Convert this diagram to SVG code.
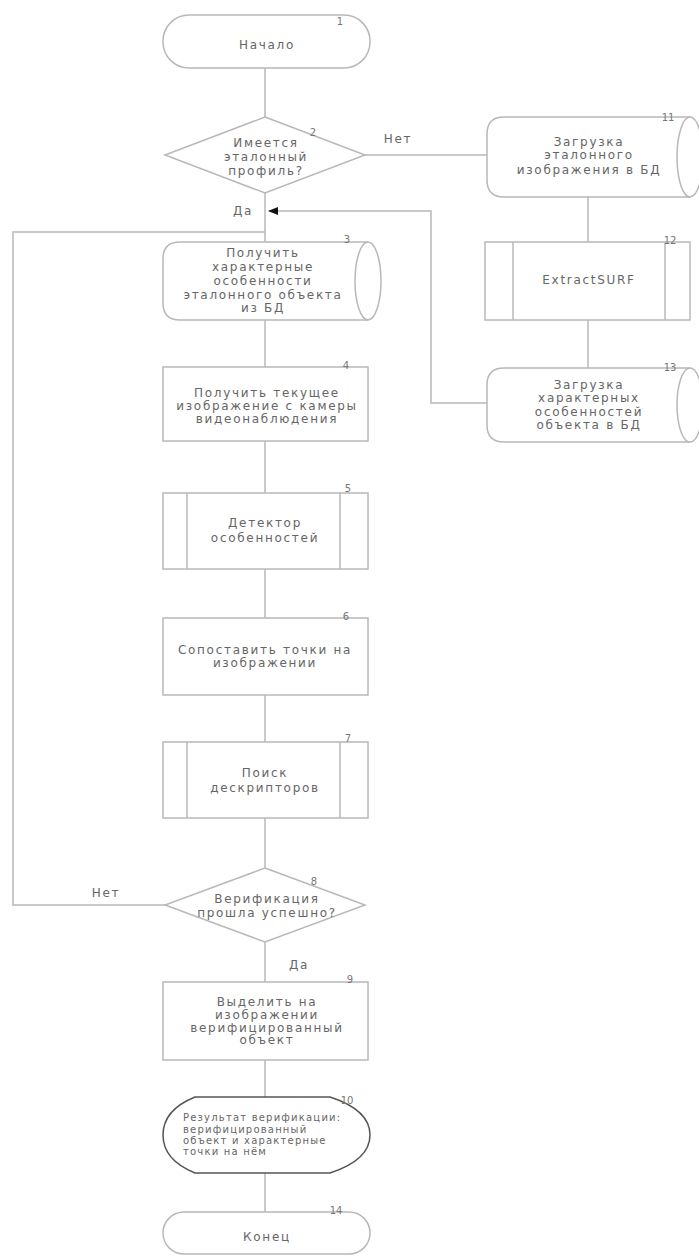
<svg xmlns="http://www.w3.org/2000/svg" width="699" height="1256" viewBox="0 0 699 1256">
<defs>
<style>
.s{fill:#fff;stroke:#b8b8b8;stroke-width:1.5}
.d{fill:#fff;stroke:#555;stroke-width:1.5}
.c{fill:none;stroke:#b8b8b8;stroke-width:1.5}
.t{font-family:"DejaVu Sans",sans-serif;font-size:12px;fill:#666;text-anchor:middle;letter-spacing:1.7px}
.n{font-family:"DejaVu Sans",sans-serif;font-size:10px;fill:#777;text-anchor:middle}
.sm{font-family:"DejaVu Sans",sans-serif;font-size:10px;fill:#666;letter-spacing:1.2px}
</style>
<marker id="ah" markerWidth="10" markerHeight="8" refX="9" refY="4" orient="auto" markerUnits="userSpaceOnUse">
<path d="M0,0 L10,4 L0,8 Z" fill="#111"/>
</marker>
</defs>
<rect width="699" height="1256" fill="#fff"/>
<g id="connectors">
<line class="c" x1="265" y1="68" x2="265" y2="117"/>
<line class="c" x1="265" y1="193" x2="265" y2="242"/>
<line class="c" x1="363" y1="155" x2="487" y2="155"/>
<line class="c" x1="588" y1="197" x2="588" y2="242"/>
<line class="c" x1="588" y1="320" x2="588" y2="368"/>
<polyline class="c" points="487,403 431,403 431,211 269,211" marker-end="url(#ah)"/>
<line class="c" x1="265" y1="320" x2="265" y2="367"/>
<line class="c" x1="265" y1="441" x2="265" y2="493"/>
<line class="c" x1="265" y1="569" x2="265" y2="618"/>
<line class="c" x1="265" y1="695" x2="265" y2="742"/>
<line class="c" x1="265" y1="818" x2="265" y2="868"/>
<polyline class="c" points="165,905 13,905 13,232 265,232"/>
<line class="c" x1="265" y1="942" x2="265" y2="982"/>
<line class="c" x1="265" y1="1060" x2="265" y2="1097"/>
<line class="c" x1="265" y1="1173" x2="265" y2="1212"/>
<text class="t" x="398" y="143">Нет</text>
<text class="t" x="243" y="215">Да</text>
<text class="t" x="106" y="897">Нет</text>
<text class="t" x="299" y="969">Да</text>
</g>
<g id="n1">
<rect class="s" x="163" y="15" width="207" height="53" rx="26"/>
<text class="t" x="267" y="49">Начало</text>
<text class="n" x="340" y="25">1</text>
</g>
<g id="n2">
<polygon class="s" points="265,117 365,155 265,193 165,155"/>
<text class="t" x="266" y="147">Имеется</text>
<text class="t" x="266" y="161">эталонный</text>
<text class="t" x="266" y="175">профиль?</text>
<text class="n" x="313" y="136">2</text>
</g>
<g id="n3">
<path class="s" d="M180,242 L368,242 A13,39 0 0 1 368,320 L180,320 Q163,320 163,303 L163,259 Q163,242 180,242 Z"/>
<path class="c" d="M368,242 A13,39 0 0 0 368,320"/>
<text class="t" x="263" y="257">Получить</text>
<text class="t" x="263" y="271">характерные</text>
<text class="t" x="263" y="285">особенности</text>
<text class="t" x="263" y="299">эталонного объекта</text>
<text class="t" x="263" y="312">из БД</text>
<text class="n" x="347" y="243">3</text>
</g>
<g id="n4">
<rect class="s" x="163" y="367" width="205" height="74"/>
<text class="t" x="267" y="397">Получить текущее</text>
<text class="t" x="267" y="410">изображение с камеры</text>
<text class="t" x="267" y="423">видеонаблюдения</text>
<text class="n" x="346" y="369">4</text>
</g>
<g id="n5">
<rect class="s" x="163" y="493" width="205" height="76"/>
<line class="c" x1="187" y1="493" x2="187" y2="569"/>
<line class="c" x1="340" y1="493" x2="340" y2="569"/>
<text class="t" x="265" y="527">Детектор</text>
<text class="t" x="265" y="542">особенностей</text>
<text class="n" x="348" y="492">5</text>
</g>
<g id="n6">
<rect class="s" x="163" y="618" width="205" height="77"/>
<text class="t" x="265" y="654">Сопоставить точки на</text>
<text class="t" x="265" y="667">изображении</text>
<text class="n" x="346" y="620">6</text>
</g>
<g id="n7">
<rect class="s" x="163" y="742" width="205" height="76"/>
<line class="c" x1="187" y1="742" x2="187" y2="818"/>
<line class="c" x1="340" y1="742" x2="340" y2="818"/>
<text class="t" x="265" y="777">Поиск</text>
<text class="t" x="265" y="792">дескрипторов</text>
<text class="n" x="348" y="742">7</text>
</g>
<g id="n8">
<polygon class="s" points="265,868 365,905 265,942 165,905"/>
<text class="t" x="267" y="903">Верификация</text>
<text class="t" x="267" y="917">прошла успешно?</text>
<text class="n" x="314" y="885">8</text>
</g>
<g id="n9">
<rect class="s" x="163" y="982" width="205" height="78"/>
<text class="t" x="267" y="1006">Выделить на</text>
<text class="t" x="267" y="1019">изображении</text>
<text class="t" x="267" y="1032">верифицированный</text>
<text class="t" x="267" y="1044">объект</text>
<text class="n" x="350" y="983">9</text>
</g>
<g id="n10">
<path class="d" d="M195,1097 L330,1097 Q370,1110 370,1135 Q370,1160 330,1173 L195,1173 Q163,1160 163,1135 Q163,1110 195,1097 Z"/>
<text class="sm" x="183" y="1121">Результат верификации:</text>
<text class="sm" x="183" y="1133">верифицированный</text>
<text class="sm" x="183" y="1144">объект и характерные</text>
<text class="sm" x="183" y="1155">точки на нём</text>
<text class="n" x="347" y="1104">10</text>
</g>
<g id="n14">
<rect class="s" x="163" y="1212" width="207" height="42" rx="21"/>
<text class="t" x="267" y="1241">Конец</text>
<text class="n" x="336" y="1214">14</text>
</g>
<g id="n11">
<path class="s" d="M504,117 L690,117 A13,40 0 0 1 690,197 L504,197 Q487,197 487,180 L487,134 Q487,117 504,117 Z"/>
<path class="c" d="M690,117 A13,40 0 0 0 690,197"/>
<text class="t" x="589" y="146">Загрузка</text>
<text class="t" x="589" y="159">эталонного</text>
<text class="t" x="589" y="174">изображения в БД</text>
<text class="n" x="668" y="121">11</text>
</g>
<g id="n12">
<rect class="s" x="485" y="242" width="205" height="78"/>
<line class="c" x1="513" y1="242" x2="513" y2="320"/>
<line class="c" x1="665" y1="242" x2="665" y2="320"/>
<text class="t" x="589" y="284">ExtractSURF</text>
<text class="n" x="670" y="244">12</text>
</g>
<g id="n13">
<path class="s" d="M504,368 L690,368 A13,37 0 0 1 690,442 L504,442 Q487,442 487,425 L487,385 Q487,368 504,368 Z"/>
<path class="c" d="M690,368 A13,37 0 0 0 690,442"/>
<text class="t" x="589" y="389">Загрузка</text>
<text class="t" x="589" y="402">характерных</text>
<text class="t" x="589" y="416">особенностей</text>
<text class="t" x="589" y="429">объекта в БД</text>
<text class="n" x="670" y="371">13</text>
</g>
</svg>
